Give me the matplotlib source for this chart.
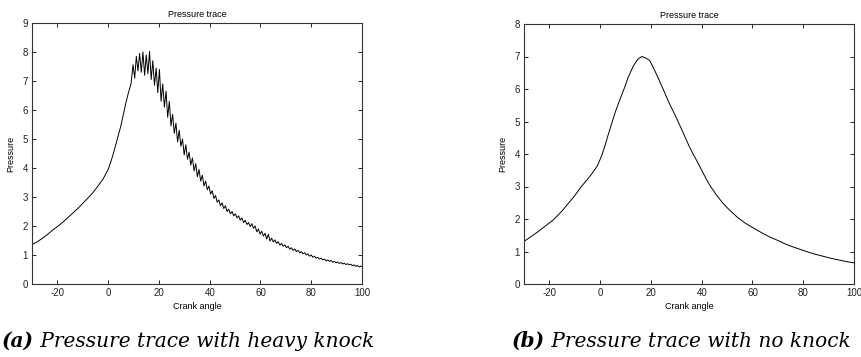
import numpy as np
import matplotlib
matplotlib.use("Agg")
import matplotlib.pyplot as plt

# ---------------- data ----------------
# (a) heavy knock: smooth compression part
angle_a_smooth = [-30, -28, -26, -24, -22, -20, -18, -16, -14, -12, -10, -8, -6, -4, -2,
                  0, 1, 2, 3, 4, 5, 6, 7, 8, 9]
pressure_a_smooth = [1.36, 1.45, 1.57, 1.70, 1.85, 1.98, 2.12, 2.28, 2.44, 2.60, 2.78, 2.96,
                     3.15, 3.38, 3.62, 3.95, 4.20, 4.48, 4.80, 5.12, 5.45, 5.85, 6.25, 6.60, 6.90]
# (a) heavy knock: oscillating part, sampled every 0.65 deg from 9.8 deg
knock_start = 9.8
knock_step = 0.65
pressure_a_knock = [
    7.56, 7.10, 7.85, 7.35, 7.95, 7.30, 8.00, 7.20, 7.90, 7.25,
    8.02, 7.05, 7.70, 6.85, 7.45, 6.60, 7.40, 6.30, 6.90, 6.10,
    6.65, 5.75, 6.30, 5.45, 5.85, 5.20, 5.55, 4.90, 5.30, 4.75,
    5.00, 4.45, 4.80, 4.30, 4.55, 4.10, 4.35, 3.90, 4.15, 3.70,
    3.95, 3.55, 3.75, 3.38, 3.55, 3.25, 3.38, 3.10, 3.22, 2.95,
    3.05, 2.82, 2.90, 2.70, 2.80, 2.60, 2.70, 2.50, 2.58, 2.42,
    2.50, 2.35, 2.42, 2.28, 2.35, 2.20, 2.28, 2.12, 2.20, 2.05,
    2.12, 1.98, 2.08, 1.92, 2.00, 1.80, 1.90, 1.72, 1.82, 1.65,
    1.75, 1.55, 1.72, 1.48, 1.58, 1.45, 1.52, 1.40, 1.46, 1.34,
    1.40, 1.30, 1.35, 1.25, 1.30, 1.20, 1.25, 1.16, 1.21, 1.12,
    1.16, 1.08, 1.12, 1.04, 1.08, 1.00, 1.04, 0.96, 1.00, 0.92,
    0.96, 0.89, 0.92, 0.86, 0.89, 0.83, 0.86, 0.80, 0.83, 0.78,
    0.81, 0.75, 0.78, 0.73, 0.76, 0.71, 0.74, 0.69, 0.72, 0.67,
    0.70, 0.66, 0.68, 0.63, 0.66, 0.61, 0.64, 0.59, 0.62, 0.58,
]

# (b) no knock
angle_b = [-30, -25, -20, -18.3, -15, -10, -7.4, -5, -3, -1, 0.76, 2, 3, 4, 5, 6, 8, 9.4,
           11, 13, 15, 16.5, 18, 19.5, 21, 22.5, 24.8, 27, 29, 30.7, 33, 35, 36.6, 38, 40,
           42, 43.5, 46, 48, 50, 52, 54.1, 57, 60, 64, 67, 70, 73, 76, 79, 82, 85, 88, 91,
           94, 97, 100]
pressure_b = [1.31, 1.58, 1.88, 1.98, 2.25, 2.72, 3.00, 3.22, 3.42, 3.65, 3.98, 4.28, 4.55,
              4.80, 5.05, 5.30, 5.72, 6.00, 6.35, 6.70, 6.93, 7.00, 6.95, 6.88, 6.65, 6.40,
              6.00, 5.60, 5.28, 5.00, 4.60, 4.25, 4.00, 3.80, 3.50, 3.20, 3.00, 2.72, 2.52,
              2.35, 2.20, 2.05, 1.88, 1.74, 1.56, 1.44, 1.34, 1.23, 1.14, 1.06, 0.98, 0.91,
              0.85, 0.79, 0.74, 0.69, 0.65]

title_text = "Pressure trace"
xlabel_text = "Crank angle"
ylabel_text = "Pressure"
xticks = [-20, 0, 20, 40, 60, 80, 100]
caption_labels = ["(a)", "(b)"]
caption_texts = [" Pressure trace with heavy knock", " Pressure trace with no knock"]

# ---------------- figure ----------------
W, H = 861, 357
plt.rcParams['font.family'] = ['Liberation Sans', 'DejaVu Sans']
plt.rcParams['axes.unicode_minus'] = False
fig = plt.figure(figsize=(W / 100, H / 100), dpi=100)

angle_a = list(angle_a_smooth) + [knock_start + knock_step * i for i in range(len(pressure_a_knock))]
pressure_a = list(pressure_a_smooth) + list(pressure_a_knock)

panels = [
    dict(x=angle_a, y=pressure_a, ymax=9, left=32, top=23),
    dict(x=angle_b, y=pressure_b, ymax=8, left=524, top=24),
]
bottom = 284
width = 330

for p in panels:
    ax = fig.add_axes([p['left'] / W, 1 - bottom / H, width / W, (bottom - p['top']) / H])
    ax.plot(p['x'], p['y'], color='black', lw=0.7)
    ax.set_xlim(-30, 100)
    ax.set_ylim(0, p['ymax'])
    ax.set_xticks(xticks)
    ax.set_yticks(range(0, p['ymax'] + 1))
    ax.tick_params(direction='in', top=True, right=True, length=3, width=0.7,
                   labelsize=7, pad=3, colors='#222222')
    for s in ax.spines.values():
        s.set_linewidth(0.8)
        s.set_color('#333333')
    ax.set_title(title_text, fontsize=6.5, pad=4)
    ax.set_xlabel(xlabel_text, fontsize=6.5, labelpad=3)
    ax.set_ylabel(ylabel_text, fontsize=6.5, labelpad=5)

# captions
cap_left = [2, 512]
baseline = 347
fig.canvas.draw()
renderer = fig.canvas.get_renderer()
for lab, txt, xl in zip(caption_labels, caption_texts, cap_left):
    t1 = fig.text(xl / W, 1 - baseline / H, lab, fontsize=14.5, fontweight='bold',
                  style='italic', family='DejaVu Serif', va='baseline', ha='left')
    bb = t1.get_window_extent(renderer=renderer)
    fig.text(bb.x1 / W, 1 - baseline / H, txt, fontsize=14.5, style='italic',
             family='DejaVu Serif', va='baseline', ha='left')

fig.savefig("out.png", dpi=100)
